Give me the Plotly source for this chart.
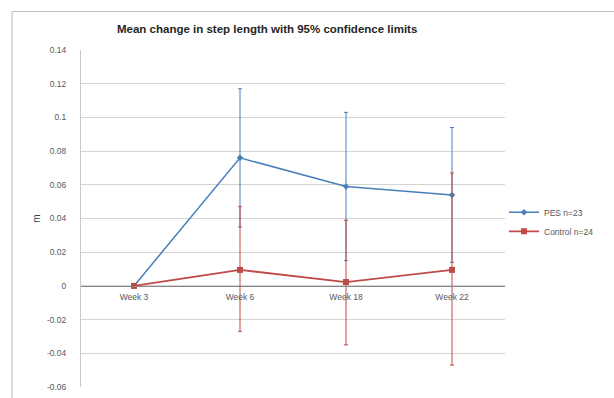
import plotly.graph_objects as go

# Study visits on the category axis
weeks = ["Week 3", "Week 6", "Week 18", "Week 22"]

# PES group (n=23): mean change in step length and 95% confidence limits (m)
pes_mean = [0.0, 0.076, 0.059, 0.054]
pes_upper = [0.0, 0.117, 0.103, 0.094]
pes_lower = [0.0, 0.035, 0.015, 0.014]

# Control group (n=24)
ctl_mean = [0.0, 0.0095, 0.0023, 0.0095]
ctl_upper = [0.0, 0.047, 0.039, 0.067]
ctl_lower = [0.0, -0.027, -0.035, -0.047]

# Value-axis ticks
y_ticks = [-0.06, -0.04, -0.02, 0, 0.02, 0.04, 0.06, 0.08, 0.1, 0.12, 0.14]
y_labels = ["-0.06", "-0.04", "-0.02", "0", "0.02", "0.04", "0.06", "0.08", "0.1", "0.12", "0.14"]

BLUE = "#4a7ebb"
RED = "#be4b48"
TXT = "#595959"
FONT = "Liberation Sans"

W, H = 614, 398
ML, MR, MT, MB = 81, 109, 50, 6
Y0, Y1 = -0.06, 0.14


def err(mean, upper, lower):
    plus = [u - m for u, m in zip(upper, mean)]
    minus = [m - l for m, l in zip(mean, lower)]
    return plus, minus


pes_plus, pes_minus = err(pes_mean, pes_upper, pes_lower)
ctl_plus, ctl_minus = err(ctl_mean, ctl_upper, ctl_lower)

fig = go.Figure()
fig.add_trace(go.Scatter(
    x=weeks, y=pes_mean, name="PES n=23", mode="lines+markers",
    line=dict(color=BLUE, width=1.5),
    marker=dict(symbol="diamond", size=5, color=BLUE),
    error_y=dict(type="data", array=pes_plus, arrayminus=pes_minus,
                 color=BLUE, thickness=1, width=2),
))
fig.add_trace(go.Scatter(
    x=weeks, y=ctl_mean, name="Control n=24", mode="lines+markers",
    line=dict(color=RED, width=1.8),
    marker=dict(symbol="square", size=6, color=RED),
    error_y=dict(type="data", array=ctl_plus, arrayminus=ctl_minus,
                 color=RED, thickness=1, width=2),
))

pw = W - ML - MR
ph = H - MT - MB

fig.update_layout(
    width=W, height=H,
    margin=dict(l=ML, r=MR, t=MT, b=MB),
    paper_bgcolor="white", plot_bgcolor="white",
    font=dict(family=FONT, size=8.5, color=TXT),
    showlegend=True,
    legend=dict(
        x=(504 - ML) / pw, y=(H - MB - 200) / ph, xanchor="left", yanchor="top",
        font=dict(size=8.5, color=TXT), itemwidth=30, tracegroupgap=2,
        bgcolor="rgba(0,0,0,0)",
    ),
    xaxis=dict(
        type="category", range=[-0.5, 3.5],
        anchor="free", position=(0 - Y0) / (Y1 - Y0),
        showline=True, linecolor="#868686", linewidth=1,
        showgrid=False, ticks="", ticklabelstandoff=3,
        tickfont=dict(size=8.5, color=TXT),
    ),
    yaxis=dict(
        range=[Y0, Y1], tickvals=y_ticks, ticktext=y_labels,
        showgrid=True, gridcolor="#d4d4d4", gridwidth=1,
        zeroline=False, showline=True, linecolor="#c8c8c8",
        ticks="", ticklabelstandoff=12, tickfont=dict(size=8.5, color=TXT),
        title=dict(text="m", font=dict(size=10, color="#404040"), standoff=4),
    ),
    annotations=[dict(
        text="<b>Mean change in step length with 95% confidence limits</b>",
        xref="paper", yref="paper", x=(267 - ML) / pw, y=(H - MB - 29) / ph,
        xanchor="center", yanchor="middle", showarrow=False,
        font=dict(size=11.5, color="#262626", family=FONT),
    )],
    shapes=[dict(
        type="rect", xref="paper", yref="paper",
        x0=(12 - ML) / pw, x1=(620 - ML) / pw,
        y0=(H - MB - 410) / ph, y1=(H - MB - 11) / ph,
        line=dict(color="#bdbdbd", width=1), layer="below",
    )],
)

fig.write_html("out.html")
